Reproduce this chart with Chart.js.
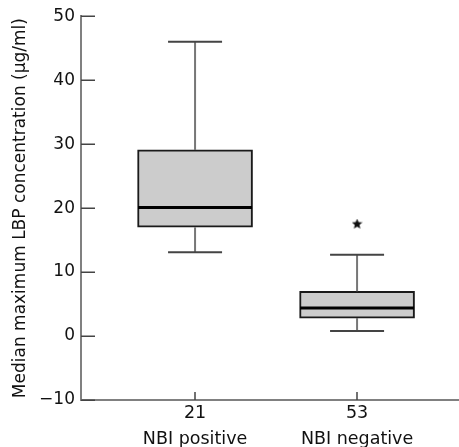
<!DOCTYPE html>
<html>
<head>
<meta charset="utf-8">
<script src="https://cdn.jsdelivr.net/npm/chart.js@4"></script>
<style>
  html, body { margin: 0; padding: 0; background: #fff; }
  #wrap { width: 459px; height: 447px; }
</style>
</head>
<body>
<div id="wrap"><canvas id="boxChart" width="459" height="447"></canvas></div>
<script>
// values
const groups = ["NBI positive", "NBI negative"];
const counts = ["21", "53"];
const whiskerLow = [13.1, 0.8];
const q1 = [17.0, 2.8];
const median = [20.1, 4.4];
const q3 = [29.1, 7.0];
const whiskerHigh = [46.0, 12.7];
const outliers = [[], [17.5]];
const yTicks = [-10, 0, 10, 20, 30, 40, 50];

const FONT = "'DejaVu Sans', sans-serif";

// small filled star for the outlier marks
function makeStar(size) {
    const c = document.createElement("canvas");
    c.width = size; c.height = size;
    const g = c.getContext("2d");
    const cx = size / 2, cy = size / 2, ro = size / 2, ri = ro * 0.45;
    g.beginPath();
    for (let i = 0; i < 10; i++) {
        const r = i % 2 ? ri : ro;
        const a = -Math.PI / 2 + i * Math.PI / 5;
        g.lineTo(cx + r * Math.cos(a), cy + r * Math.sin(a));
    }
    g.closePath();
    g.fillStyle = "#111";
    g.fill();
    return c;
}

const boxData = groups.map((g, i) => ({ x: i + 1, y: [q1[i], q3[i]] }));
const outlierData = [];
outliers.forEach((list, i) => list.forEach(v => outlierData.push({ x: i + 1, y: v })));

const boxPlotPlugin = {
    id: "boxPlot",
    afterDatasetsDraw(chart) {
        const ctx = chart.ctx;
        const xs = chart.scales.x, ys = chart.scales.y;
        ctx.save();
        groups.forEach((g, i) => {
            const cx = xs.getPixelForValue(i + 1);
            const capHalf = 27;
            const boxHalf = 57;
            // whisker stems
            ctx.strokeStyle = "#777";
            ctx.lineWidth = 2;
            ctx.beginPath();
            ctx.moveTo(cx, ys.getPixelForValue(q3[i]));
            ctx.lineTo(cx, ys.getPixelForValue(whiskerHigh[i]));
            ctx.moveTo(cx, ys.getPixelForValue(q1[i]));
            ctx.lineTo(cx, ys.getPixelForValue(whiskerLow[i]));
            ctx.stroke();
            // caps
            ctx.strokeStyle = "#444";
            ctx.beginPath();
            [whiskerHigh[i], whiskerLow[i]].forEach(v => {
                const y = ys.getPixelForValue(v);
                ctx.moveTo(cx - capHalf, y);
                ctx.lineTo(cx + capHalf, y);
            });
            ctx.stroke();
            // median
            ctx.strokeStyle = "#000";
            ctx.lineWidth = 3;
            ctx.beginPath();
            const ym = ys.getPixelForValue(median[i]);
            ctx.moveTo(cx - boxHalf, ym);
            ctx.lineTo(cx + boxHalf, ym);
            ctx.stroke();
        });
        ctx.restore();
    },
    afterDraw(chart) {
        // tick marks pointing into the plot area
        const ctx = chart.ctx;
        const xs = chart.scales.x, ys = chart.scales.y;
        const area = chart.chartArea;
        ctx.save();
        ctx.strokeStyle = "#444";
        ctx.lineWidth = 1.5;
        ctx.beginPath();
        yTicks.forEach(v => {
            const y = Math.round(ys.getPixelForValue(v)) + 0.25;
            ctx.moveTo(area.left, y);
            ctx.lineTo(area.left + 14, y);
        });
        xs.ticks.forEach(t => {
            const x = Math.round(xs.getPixelForValue(t.value));
            ctx.moveTo(x, area.bottom);
            ctx.lineTo(x, area.bottom - 8);
        });
        ctx.stroke();
        ctx.restore();
    }
};

const ctx = document.getElementById("boxChart").getContext("2d");
new Chart(ctx, {
    type: "bar",
    data: {
        datasets: [{
            type: "bar",
            data: boxData,
            backgroundColor: "#cccccc",
            borderColor: "#1a1a1a",
            borderWidth: 2,
            borderSkipped: false,
            barThickness: 115
        }, {
            type: "scatter",
            data: outlierData,
            pointStyle: makeStar(11),
            pointRadius: 5
        }]
    },
    options: {
        responsive: false,
        animation: false,
        events: [],
        layout: { autoPadding: false, padding: { top: 16, right: 1, left: 0, bottom: 0 } },
        plugins: { legend: { display: false }, tooltip: { enabled: false } },
        scales: {
            x: {
                type: "linear",
                offset: false,
                bounds: "data",
                min: 0.296,
                max: 2.623,
                afterBuildTicks: s => { s.ticks = groups.map((g, i) => ({ value: i + 1 })); },
                afterFit: s => { s.height = 47; s.paddingRight = 0; s.paddingLeft = 0; },
                grid: { display: false, tickLength: 0 },
                border: { display: true, color: "#808080", width: 2 },
                ticks: {
                    color: "#111",
                    padding: 1,
                    autoSkip: false,
                    maxRotation: 0,
                    font: { family: FONT, size: 17.5, lineHeight: 1.45 },
                    callback: (v) => {
                        const i = Math.round(v) - 1;
                        return [counts[i], groups[i]];
                    }
                }
            },
            y: {
                min: -10,
                max: 50,
                afterBuildTicks: s => { s.ticks = yTicks.map(v => ({ value: v })); },
                afterFit: s => { s.width = 81; },
                grid: { display: false, tickLength: 0 },
                border: { display: true, color: "#808080", width: 2 },
                ticks: {
                    color: "#111",
                    padding: 6,
                    font: { family: FONT, size: 17 },
                    callback: v => (v < 0 ? "\u2212" + Math.abs(v) : String(v))
                },
                title: {
                    display: true,
                    text: "Median maximum LBP concentration (\u03bcg/ml)",
                    color: "#111",
                    padding: { top: 10, bottom: 0 },
                    font: { family: FONT, size: 17 }
                }
            }
        }
    },
    plugins: [boxPlotPlugin]
});
</script>
</body>
</html>
